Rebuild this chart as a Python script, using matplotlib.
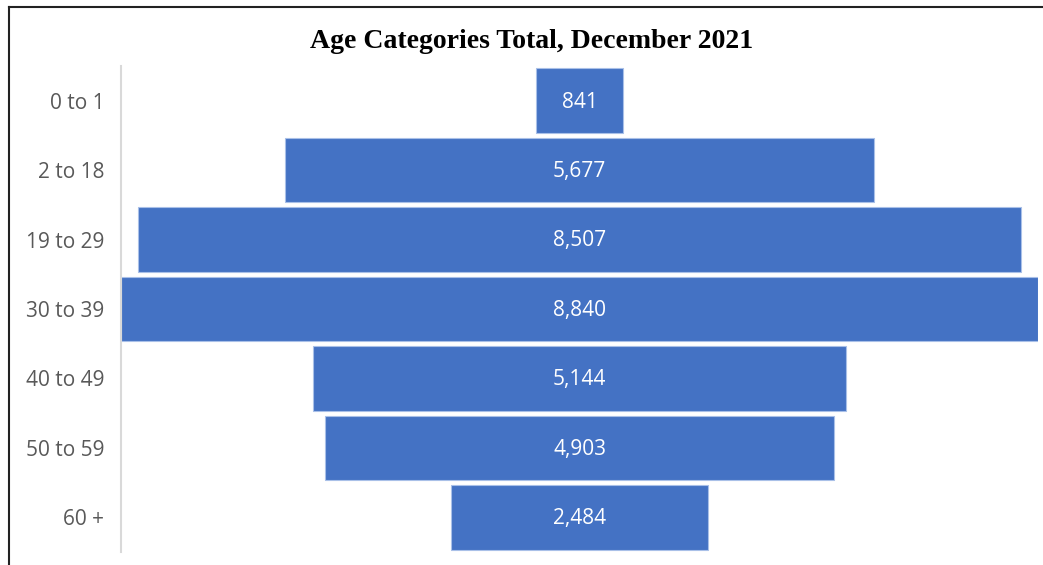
import matplotlib
matplotlib.use("Agg")
import matplotlib.pyplot as plt
from matplotlib.lines import Line2D

categories = ["0 to 1", "2 to 18", "19 to 29", "30 to 39", "40 to 49", "50 to 59", "60 +"]
values = [841, 5677, 8507, 8840, 5144, 4903, 2484]
title = "Age Categories Total, December 2021"

W, H = 1043, 565
fig = plt.figure(figsize=(W / 100, H / 100), dpi=100)
ax = fig.add_axes([121 / W, 1 - 552 / H, (1038 - 121) / W, (552 - 66) / H])

vmax = max(values)
lefts = [(vmax - v) / 2 for v in values]
ypos = list(range(len(categories)))
bars = ax.barh(ypos, values, left=lefts, height=0.93, color="#4472C4",
               edgecolor="#A9C0E8", linewidth=0.8)
for y, v, l in zip(ypos, values, lefts):
    ax.text(l + v / 2, y + 0.02, f"{v:,}", ha="center", va="center", color="white",
            fontsize=15, family="Open Sans")

ax.set_xlim(0, vmax)
ax.set_ylim(len(categories) - 0.5, -0.5)
ax.set_yticks(ypos)
ax.set_yticklabels(categories, family="Open Sans", fontsize=15, color="#595959")
ax.tick_params(axis="y", length=0, pad=12)
ax.set_xticks([])
for s in ["top", "right", "bottom"]:
    ax.spines[s].set_visible(False)
ax.spines["left"].set_color("#D9D9D9")
ax.spines["left"].set_linewidth(1.5)

fig.text(532 / W, 1 - 41 / H, title, ha="center", va="center",
         family="Liberation Serif", fontweight="bold", fontsize=20, color="black")

# frame lines (top and left) of the screenshot
fig.add_artist(Line2D([9 / W, 1], [1 - 7 / H, 1 - 7 / H], color="#222222", lw=1.5,
                      transform=fig.transFigure))
fig.add_artist(Line2D([9 / W, 9 / W], [0, 1 - 7 / H], color="#222222", lw=1.5,
                      transform=fig.transFigure))

fig.savefig("out.png", dpi=100)
